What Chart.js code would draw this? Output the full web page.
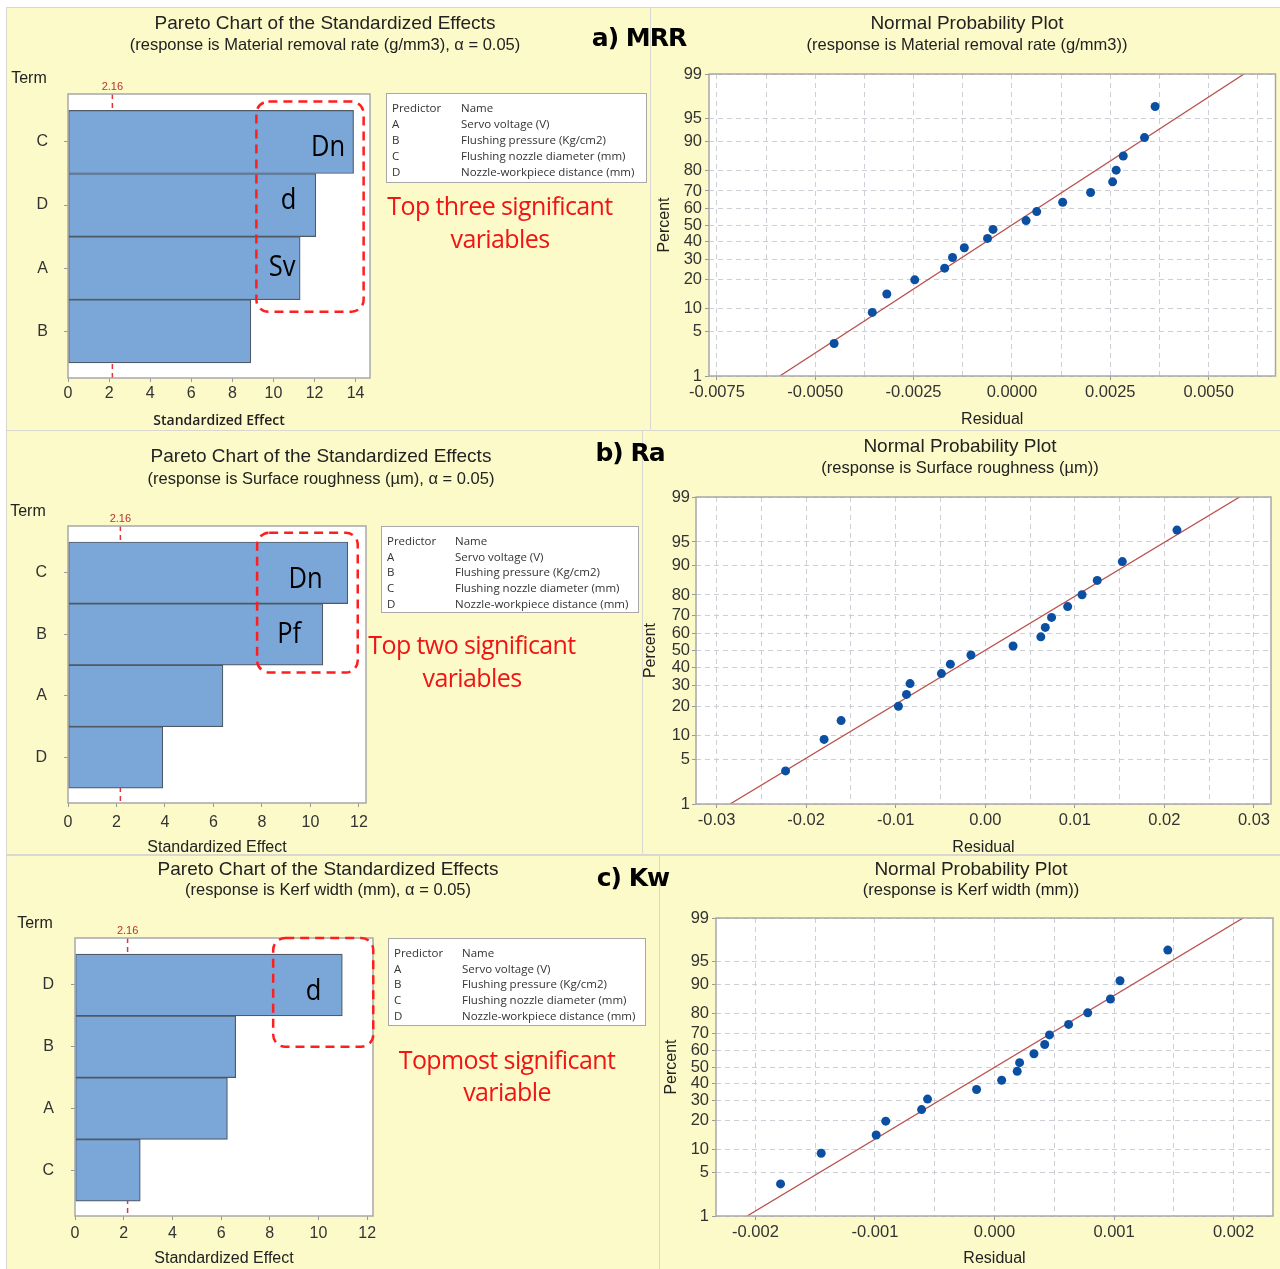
<!DOCTYPE html>
<html><head><meta charset="utf-8"><title>Pareto and Normal Probability Plots</title>
<script src="https://cdn.jsdelivr.net/npm/chart.js@4.4.1/dist/chart.umd.min.js"></script>
<style>
html,body{margin:0;padding:0;}
body{width:1280px;height:1269px;position:relative;overflow:hidden;background:#fff;font-family:'Liberation Sans',Arial,sans-serif;color:#222;}
#sheet{position:absolute;left:6px;top:7px;width:1274px;height:1262px;background:#d8d8d0;}
.panel{position:absolute;background:#fcfac9;overflow:hidden;}
.panel canvas{position:absolute;left:0;top:0;}
.lbl{position:absolute;white-space:nowrap;transform:translate(-50%,-50%);line-height:1;}
.title{font-size:19px;color:#222;}
.sub{font-size:16.5px;color:#222;}
.term{font-size:16px;color:#222;}
.tag{font-family:'DejaVu Sans',sans-serif;font-weight:bold;font-size:25px;letter-spacing:-1px;color:#000;}
.red{font-family:'Open Sans',sans-serif;font-size:25px;letter-spacing:-0.6px;color:#f01414;}
.legend{position:absolute;background:#fff;border:1px solid #a8a8a8;font-family:'Open Sans',sans-serif;font-size:11.5px;color:#333;box-sizing:border-box;}
.legend div{position:absolute;white-space:nowrap;line-height:1;transform:translateY(-50%);}
</style></head>
<body>
<div id="sheet"></div>
<script>
// ---------------- DATA ----------------
const predictorCodes = ['A','B','C','D'];
const predictorNames = ['Servo voltage (V)','Flushing pressure (Kg/cm2)','Flushing nozzle diameter (mm)','Nozzle-workpiece distance (mm)'];
const criticalEffect = 2.16;

const mrrTerms = ['C','D','A','B'];
const mrrEffects = [13.9, 12.06, 11.3, 8.9];
const raTerms = ['C','B','A','D'];
const raEffects = [11.54, 10.51, 6.39, 3.91];
const kwTerms = ['D','B','A','C'];
const kwEffects = [10.98, 6.6, 6.26, 2.68];
const paretoTicksA = [0,2,4,6,8,10,12,14];
const paretoTicksBC = [0,2,4,6,8,10,12];

const percentTicks = [1,5,10,20,30,40,50,60,70,80,90,95,99];
const plotPercents = [3.4, 8.9, 14.4, 19.9, 25.3, 30.8, 36.3, 41.8, 47.3, 52.7, 58.2, 63.7, 69.2, 74.7, 80.1, 85.6, 91.1, 96.6];

const mrrResiduals = [-0.00452,-0.00355,-0.00318,-0.00247,-0.00171,-0.00151,-0.00121,-0.00062,-0.00048,0.00036,0.00063,0.00129,0.00200,0.00256,0.00265,0.00283,0.00337,0.00364];
const raResiduals = [-0.0223,-0.0180,-0.0161,-0.0097,-0.0088,-0.0084,-0.0049,-0.0039,-0.0016,0.0031,0.0062,0.0067,0.0074,0.0092,0.0108,0.0125,0.0153,0.0214];
const kwResiduals = [-0.00179,-0.00145,-0.00099,-0.00091,-0.00061,-0.00056,-0.00015,0.00006,0.00019,0.00021,0.00033,0.00042,0.00046,0.00062,0.00078,0.00097,0.00105,0.00145];

// fitted line: residual at 1 % and at 99 %
const mrrFitLine = [-0.0059, 0.0059];
const raFitLine = [-0.0285, 0.0284];
const kwFitLine = [-0.00207, 0.00208];

const mrrResidualTicks = [-0.0075,-0.005,-0.0025,0,0.0025,0.005];
const raResidualTicks = [-0.03,-0.02,-0.01,0,0.01,0.02,0.03];
const kwResidualTicks = [-0.002,-0.001,0,0.001,0.002];

// ---------------- HELPERS ----------------
function probit(p){
  const a=[-3.969683028665376e+01,2.209460984245205e+02,-2.759285104469687e+02,1.383577518672690e+02,-3.066479806614716e+01,2.506628277459239e+00];
  const b=[-5.447609879822406e+01,1.615858368580409e+02,-1.556989798598866e+02,6.680131188771972e+01,-1.328068155288572e+01];
  const c=[-7.784894002430293e-03,-3.223964580411365e-01,-2.400758277161838e+00,-2.549732539343734e+00,4.374664141464968e+00,2.938163982698783e+00];
  const d=[7.784695709041462e-03,3.224671290700398e-01,2.445134137142996e+00,3.754408661907416e+00];
  const pl=0.02425, ph=1-pl; let q,r;
  if(p<pl){q=Math.sqrt(-2*Math.log(p));return (((((c[0]*q+c[1])*q+c[2])*q+c[3])*q+c[4])*q+c[5])/((((d[0]*q+d[1])*q+d[2])*q+d[3])*q+1);}
  if(p>ph){q=Math.sqrt(-2*Math.log(1-p));return -(((((c[0]*q+c[1])*q+c[2])*q+c[3])*q+c[4])*q+c[5])/((((d[0]*q+d[1])*q+d[2])*q+d[3])*q+1);}
  q=p-0.5;r=q*q;return (((((a[0]*r+a[1])*r+a[2])*r+a[3])*r+a[4])*r+a[5])*q/(((((b[0]*r+b[1])*r+b[2])*r+b[3])*r+b[4])*r+1);
}

Chart.defaults.font.family = "'Liberation Sans', Arial, sans-serif";
Chart.defaults.color = '#333';

const panels = {
  aL:{x:7,y:8,w:643,h:422},   aR:{x:651,y:8,w:629,h:422},
  bL:{x:7,y:431,w:635,h:423}, bR:{x:643,y:431,w:637,h:423},
  cL:{x:7,y:856,w:652,h:413}, cR:{x:660,y:856,w:620,h:413}
};

function makeCanvas(p){
  const div=document.createElement('div'); div.className='panel';
  Object.assign(div.style,{left:p.x+'px',top:p.y+'px',width:p.w+'px',height:p.h+'px'});
  const cv=document.createElement('canvas'); cv.width=p.w; cv.height=p.h;
  cv.style.width=p.w+'px'; cv.style.height=p.h+'px';
  div.appendChild(cv); document.body.appendChild(div); return cv;
}
function label(x,y,text,cls){
  const d=document.createElement('div'); d.className='lbl '+cls; d.textContent=text;
  d.style.left=x+'px'; d.style.top=y+'px'; document.body.appendChild(d);
}
function legendBox(x,y,w,h,colX,step){
  const box=document.createElement('div'); box.className='legend';
  Object.assign(box.style,{left:x+'px',top:y+'px',width:w+'px',height:h+'px'});
  const rows=[['Predictor','Name']].concat(predictorCodes.map((c,i)=>[c,predictorNames[i]]));
  rows.forEach((r,i)=>{
    [0,1].forEach(j=>{
      const t=document.createElement('div'); t.textContent=r[j];
      t.style.left=(j===0?5:colX)+'px'; t.style.top=(14+i*step)+'px'; box.appendChild(t);
    });
  });
  document.body.appendChild(box);
}

const framePlugin = {
  id:'frame',
  beforeDraw(chart){const {ctx,chartArea:a}=chart;ctx.save();ctx.fillStyle='#fff';ctx.fillRect(a.left,a.top,a.right-a.left,a.bottom-a.top);ctx.restore();},
  afterDraw(chart){const {ctx,chartArea:a}=chart;ctx.save();ctx.strokeStyle='#a8a8a8';ctx.lineWidth=1.5;ctx.strokeRect(a.left,a.top,a.right-a.left,a.bottom-a.top);ctx.restore();}
};
const paretoPlugin = {
  id:'pareto',
  beforeDatasetsDraw(chart,args,opts){
    const {ctx,chartArea:a,scales:{x}}=chart; const px=x.getPixelForValue(opts.critical);
    ctx.save(); ctx.strokeStyle='#e3343c'; ctx.lineWidth=1.5; ctx.setLineDash([5,4]);
    ctx.beginPath(); ctx.moveTo(px,a.top); ctx.lineTo(px,a.bottom); ctx.stroke();
    ctx.setLineDash([]); ctx.fillStyle='#b8322e'; ctx.font="11px 'Liberation Sans', Arial, sans-serif";
    ctx.textAlign='center'; ctx.textBaseline='middle'; ctx.fillText(opts.critical.toFixed(2),px,a.top-7);
    ctx.restore();
  },
  afterDraw(chart,args,opts){
    const {ctx,scales:{x,y}}=chart; const b=opts.box;
    const x0=x.getPixelForValue(b.x0),x1=x.getPixelForValue(b.x1),y0=y.getPixelForValue(b.y0),y1=y.getPixelForValue(b.y1);
    ctx.save(); ctx.strokeStyle='#ff1e1e'; ctx.lineWidth=2.5; ctx.setLineDash([9,6]);
    ctx.beginPath(); ctx.roundRect(Math.min(x0,x1),Math.min(y0,y1),Math.abs(x1-x0),Math.abs(y1-y0),12); ctx.stroke(); ctx.setLineDash([]);
    ctx.fillStyle='#000'; ctx.font="29px 'Open Sans', sans-serif"; ctx.textAlign='center'; ctx.textBaseline='middle';
    opts.marks.forEach(m=>{const px=x.getPixelForValue(m.x),py=y.getPixelForValue(m.y);ctx.save();ctx.translate(px,py);ctx.scale(0.88,1);ctx.fillText(m.text,0,0);ctx.restore();});
    ctx.restore();
  }
};

function makePareto(p,frame,terms,effects,o){
  const cv=makeCanvas(p);
  new Chart(cv,{
    type:'bar',
    data:{datasets:[{data:effects.map((v,i)=>({x:v,y:i})),backgroundColor:'#7ba6d8',borderColor:'#4f5a66',borderWidth:1.2,borderSkipped:false,barPercentage:1,categoryPercentage:1}]},
    options:{
      indexAxis:'y',responsive:false,animation:false,devicePixelRatio:1,
      layout:{padding:{left:0,top:frame.T-p.y,right:p.x+p.w-frame.R,bottom:0}},
      plugins:{legend:{display:false},tooltip:{enabled:false},pareto:{critical:criticalEffect,box:o.box,marks:o.marks}},
      scales:{
        x:{type:'linear',min:0,max:o.xMax,offset:false,
           afterBuildTicks:s=>{s.ticks=o.xTicks.map(v=>({value:v}));},
           afterFit:s=>{s.height=p.y+p.h-frame.B;},
           grid:{drawOnChartArea:false,drawTicks:true,tickLength:4,tickColor:'#999',offset:false},border:{display:false},
           ticks:{padding:o.xPad,font:{size:16},color:'#333',maxRotation:0,autoSkip:false},
           title:{display:true,text:'Standardized Effect',font:o.xTitleFont,color:'#222',padding:{top:0,bottom:o.xTitlePad}}},
        y:{type:'linear',reverse:true,min:-0.76,max:3.74,offset:false,bounds:'data',
           afterBuildTicks:s=>{s.ticks=terms.map((t,i)=>({value:i}));},
           afterFit:s=>{s.width=frame.L-p.x;},
           ticks:{callback:(v,i)=>terms[i],padding:o.yPad,font:{size:16},color:'#333',autoSkip:false},
           grid:{drawOnChartArea:false,tickLength:4,tickColor:'#999',offset:false},border:{display:false}}
      }
    },
    plugins:[framePlugin,paretoPlugin]
  });
}

function makeNormal(p,frame,residuals,fitLine,majors,decimals,o){
  const cv=makeCanvas(p);
  const half=(majors[1]-majors[0])/2;
  const grid=[]; for(let k=Math.ceil(o.xMin/half-1e-9);k<=Math.floor(o.xMax/half+1e-9);k++) grid.push(k*half);
  const majorLabel=v=>{const m=majors.find(t=>Math.abs(t-v)<half*1e-3);return m===undefined?'':(Math.abs(m)<1e-12?0:m).toFixed(decimals);};
  const gridColor='#cdced6';
  new Chart(cv,{
    type:'scatter',
    data:{datasets:[
      {type:'line',data:[{x:fitLine[0],y:probit(0.01)},{x:fitLine[1],y:probit(0.99)}],borderColor:'#b9504c',borderWidth:1.3,pointRadius:0,fill:false,order:2},
      {data:residuals.map((r,i)=>({x:r,y:probit(plotPercents[i]/100)})),backgroundColor:'#0b4fa3',borderColor:'#0b4fa3',pointRadius:4.5,borderWidth:0,order:1}
    ]},
    options:{
      responsive:false,animation:false,devicePixelRatio:1,
      layout:{padding:{left:0,top:frame.T-p.y,right:p.x+p.w-frame.R,bottom:0}},
      plugins:{legend:{display:false},tooltip:{enabled:false}},
      scales:{
        x:{type:'linear',min:o.xMin,max:o.xMax,
           afterBuildTicks:s=>{s.ticks=grid.map(v=>({value:v}));},
           afterFit:s=>{s.height=p.y+p.h-frame.B;},
           ticks:{callback:(v)=>majorLabel(v),autoSkip:false,maxRotation:0,padding:3,font:{size:16.5},color:'#333'},
           grid:{color:gridColor,tickLength:4,tickColor:(c)=>majorLabel(c.tick?c.tick.value:NaN)?'#999':'rgba(0,0,0,0)'},
           border:{display:false,dash:[5,4]},
           title:{display:true,text:'Residual',font:{size:16},color:'#222',padding:{top:0,bottom:o.xTitlePad}}},
        y:{type:'linear',min:probit(0.01),max:probit(0.99),
           afterBuildTicks:s=>{s.ticks=percentTicks.map(v=>({value:probit(v/100)}));},
           afterFit:s=>{s.width=frame.L-p.x;},
           ticks:{callback:(v,i)=>percentTicks[i],autoSkip:false,padding:o.yPad,font:{size:16.5},color:'#333'},
           grid:{color:gridColor,tickLength:4,tickColor:'#999'},
           border:{display:false,dash:[5,4]},
           title:{display:true,text:'Percent',font:{size:16},color:'#222',padding:{top:o.yTitlePad,bottom:0}}}
      }
    },
    plugins:[framePlugin]
  });
}

// ---------------- CHARTS ----------------
makePareto(panels.aL,{L:68,T:94,R:370,B:378},mrrTerms,mrrEffects,{
  xMax:14.7,xTicks:paretoTicksA,xPad:2,yPad:16,xTitlePad:0.6,
  xTitleFont:{family:"'Open Sans', sans-serif",size:14,weight:'600'},
  box:{x0:9.17,x1:14.39,y0:-0.64,y1:2.69},
  marks:[{text:'Dn',x:12.66,y:0.09},{text:'d',x:10.73,y:0.93},{text:'Sv',x:10.42,y:2.0}]
});
makePareto(panels.bL,{L:68,T:526,R:366,B:803},raTerms,raEffects,{
  xMax:12.29,xTicks:paretoTicksBC,xPad:5.5,yPad:17,xTitlePad:-3.6,
  xTitleFont:{size:16},
  box:{x0:7.8,x1:11.95,y0:-0.65,y1:1.62},
  marks:[{text:'Dn',x:9.8,y:0.11},{text:'Pf',x:9.12,y:1.0}]
});
makePareto(panels.cL,{L:75,T:938,R:373,B:1216},kwTerms,kwEffects,{
  xMax:12.24,xTicks:paretoTicksBC,xPad:3.5,yPad:17,xTitlePad:0.4,
  xTitleFont:{size:16},
  box:{x0:8.14,x1:12.25,y0:-0.76,y1:1.0},
  marks:[{text:'d',x:9.8,y:0.11}]
});
makeNormal(panels.aR,{L:709,T:74,R:1276,B:376},mrrResiduals,mrrFitLine,mrrResidualTicks,4,{xMin:-0.0077,xMax:0.0067,yPad:3,xTitlePad:0.4,yTitlePad:4.4});
makeNormal(panels.bR,{L:696,T:497,R:1271,B:804},raResiduals,raFitLine,raResidualTicks,2,{xMin:-0.0323,xMax:0.0319,yPad:2,xTitlePad:-3.6,yTitlePad:-1.6});
makeNormal(panels.cR,{L:716,T:918,R:1273,B:1216},kwResiduals,kwFitLine,kwResidualTicks,3,{xMin:-0.00233,xMax:0.00233,yPad:3,xTitlePad:0.4,yTitlePad:2.4});

// ---------------- TEXT OVERLAYS ----------------
label(325,22,'Pareto Chart of the Standardized Effects','title');
label(325,44,'(response is Material removal rate (g/mm3), \u03b1 = 0.05)','sub');
label(967,22,'Normal Probability Plot','title');
label(967,44,'(response is Material removal rate (g/mm3))','sub');
label(321,455,'Pareto Chart of the Standardized Effects','title');
label(321,478,'(response is Surface roughness (\u00b5m), \u03b1 = 0.05)','sub');
label(960,445,'Normal Probability Plot','title');
label(960,467,'(response is Surface roughness (\u00b5m))','sub');
label(328,868,'Pareto Chart of the Standardized Effects','title');
label(328,889,'(response is Kerf width (mm), \u03b1 = 0.05)','sub');
label(971,868,'Normal Probability Plot','title');
label(971,889,'(response is Kerf width (mm))','sub');

label(29,78,'Term','term'); label(28,511,'Term','term'); label(35,923,'Term','term');

label(639,37,'a) MRR','tag'); label(630,452,'b) Ra','tag'); label(633,877,'c) Kw','tag');

label(500,205,'Top three significant','red'); label(500,238,'variables','red');
label(472,644,'Top two significant','red'); label(472,677,'variables','red');
label(507,1059,'Topmost significant','red'); label(507,1091,'variable','red');

legendBox(386,93,261,90,74,16);
legendBox(381,526,258,87,73,15.7);
legendBox(388,938,258,88,73,15.7);
</script>
</body></html>
